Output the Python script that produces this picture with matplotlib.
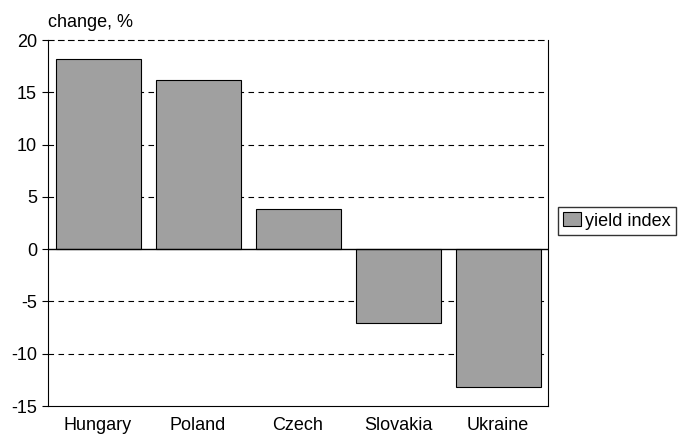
import matplotlib
matplotlib.use("Agg")
import matplotlib.pyplot as plt
import numpy as np

plt.rcParams['font.family'] = ['Liberation Sans', 'DejaVu Sans']

countries = ['Hungary', 'Poland', 'Czech', 'Slovakia', 'Ukraine']
yield_change = [18.2, 16.2, 3.8, -7.1, -13.2]
yticks = [20, 15, 10, 5, 0, -5, -10, -15]

fig = plt.figure(figsize=(6.8, 4.36), dpi=100)
ax = fig.add_axes([48 / 680, 30 / 436, 500 / 680, 366 / 436])

x = np.arange(len(countries))
ax.bar(x, yield_change, width=0.85, color='#a0a0a0', edgecolor='black',
       linewidth=0.8, label='yield index', zorder=3)

# dashed grid lines, solid zero line
for t in yticks:
    if t == 0:
        ax.axhline(0, color='black', linewidth=1.0, zorder=4)
    elif t not in (20, -15):
        ax.axhline(t, color='black', linewidth=0.8, linestyle=(0, (5, 4)), zorder=1)

ax.set_xlim(-0.5, 4.5)
ax.set_ylim(-15, 20)
ax.set_yticks(yticks)
ax.set_yticklabels([str(t) for t in yticks], fontsize=13)
ax.set_xticks(x)
ax.set_xticklabels(countries, fontsize=13)
ax.tick_params(axis='x', length=0, pad=8)
ax.tick_params(axis='y', direction='out', length=4, width=0.8, pad=4)

ax.spines['top'].set_linestyle((0, (5, 4)))
for s in ax.spines.values():
    s.set_linewidth(0.8)

ax.text(0, 1.025, 'change, %', transform=ax.transAxes, fontsize=13,
        ha='left', va='bottom')

fig.legend(loc='upper left', bbox_to_anchor=(558 / 680, 1 - 207 / 436),
           fontsize=13, frameon=True, fancybox=False, edgecolor='black',
           handlelength=1.0, handleheight=0.8, handletextpad=0.2,
           borderpad=0.3, borderaxespad=0)

fig.savefig('out.png', dpi=100)
